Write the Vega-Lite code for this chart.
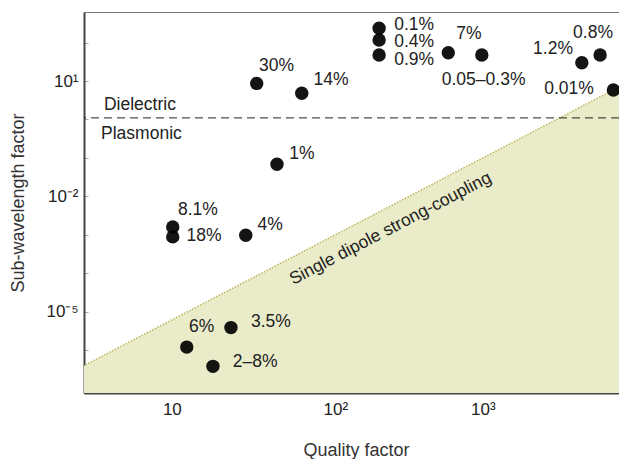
{
  "$schema": "https://vega.github.io/schema/vega-lite/v6.json",
  "width": 535,
  "height": 381,
  "autosize": {"type": "none"},
  "padding": {"left": 84, "top": 12, "right": 0, "bottom": 66},
  "background": "white",
  "config": {
    "font": "Liberation Sans",
    "view": {"stroke": "#777", "strokeWidth": 1},
    "axis": {"grid": false, "titleFontWeight": "normal", "labelFont": "Liberation Sans", "titleFont": "Liberation Sans"}
  },
  "datasets": {
    "boundary": [{"q": 1, "s": 1e-7}, {"q": 12000, "s": 14.4}],
    "divider": [{"s": 1.1}],
    "points": [
      {"label": "30%", "q": 29.3, "s": 8.7},
      {"label": "14%", "q": 59.2, "s": 4.8},
      {"label": "1%", "q": 40.2, "s": 0.0687},
      {"label": "0.1%", "q": 198, "s": 236},
      {"label": "0.4%", "q": 198, "s": 117},
      {"label": "0.9%", "q": 198, "s": 47.6},
      {"label": "7%", "q": 583, "s": 54.6},
      {"label": "0.05–0.3%", "q": 984, "s": 47.6},
      {"label": "1.2%", "q": 4688, "s": 30},
      {"label": "0.8%", "q": 6237, "s": 47.6},
      {"label": "0.01%", "q": 7674, "s": 5.83},
      {"label": "8.1%", "q": 7.9, "s": 0.0016},
      {"label": "18%", "q": 7.9, "s": 0.00088},
      {"label": "4%", "q": 24.7, "s": 0.00097},
      {"label": "3.5%", "q": 19.6, "s": 3.83e-6},
      {"label": "6%", "q": 9.83, "s": 1.19e-6},
      {"label": "2–8%", "q": 14.8, "s": 3.75e-7}
    ],
    "labels": [
      {"label": "30%", "q": 39.9, "s": 24.6},
      {"label": "14%", "q": 93.6, "s": 10.6},
      {"label": "1%", "q": 59.4, "s": 0.125},
      {"label": "0.1%", "q": 342, "s": 288},
      {"label": "0.4%", "q": 342, "s": 105.7},
      {"label": "0.9%", "q": 342, "s": 35.2},
      {"label": "7%", "q": 805, "s": 168},
      {"label": "0.05–0.3%", "q": 1012, "s": 10.6},
      {"label": "1.2%", "q": 2992, "s": 68.2},
      {"label": "0.8%", "q": 5585, "s": 178},
      {"label": "0.01%", "q": 3838, "s": 6.19},
      {"label": "8.1%", "q": 11.7, "s": 0.00436},
      {"label": "18%", "q": 12.88, "s": 0.000914},
      {"label": "4%", "q": 36.1, "s": 0.00177},
      {"label": "3.5%", "q": 36.6, "s": 5.26e-6},
      {"label": "6%", "q": 12.4, "s": 3.89e-6},
      {"label": "2–8%", "q": 28.6, "s": 4.78e-7}
    ],
    "regions": [
      {"label": "Dielectric", "q": 2.7, "s": 2.4},
      {"label": "Plasmonic", "q": 2.58, "s": 0.42}
    ],
    "regime": [
      {"label": "Single dipole strong-coupling", "q": 236.7, "s": 0.001435}
    ]
  },
  "encoding": {
    "x": {
      "field": "q",
      "type": "quantitative",
      "scale": {"type": "log", "domain": [1.977, 8375]},
      "axis": {
        "title": "Quality factor",
        "values": [2, 3, 4, 5, 6, 7, 8, 9, 10, 20, 30, 40, 50, 60, 70, 80, 90, 100, 200, 300, 400, 500, 600, 700, 800, 900, 1000, 2000, 3000, 4000, 5000, 6000, 7000, 8000],
        "labelExpr": "round(log(datum.value)/LN10 * 1000) == 1000 ? '10' : round(log(datum.value)/LN10 * 1000) == 2000 ? '10²' : round(log(datum.value)/LN10 * 1000) == 3000 ? '10³' : ''",
        "labelFontSize": 17,
        "labelColor": "#222",
        "labelPadding": 12,
        "labelOffset": {"expr": "round(datum.value) == 10 ? -16 : 0"},
        "labelFlush": false,
        "labelOverlap": false,
        "tickSize": -4,
        "tickColor": "#aaa",
        "domainColor": "#444",
        "domainWidth": 2,
        "titleFontSize": 18,
        "titleColor": "#333",
        "titleX": 272,
        "titleY": 57,
        "titleBaseline": "middle"
      }
    },
    "y": {
      "field": "s",
      "type": "quantitative",
      "scale": {"type": "log", "domain": [7.6e-8, 628]},
      "axis": {
        "title": "Sub-wavelength factor",
        "values": [1e-7, 1e-6, 1e-5, 1e-4, 1e-3, 1e-2, 1e-1, 1, 10, 100],
        "labelExpr": "round(log(datum.value)/LN10) == 1 ? '10¹' : round(log(datum.value)/LN10) == -2 ? '10⁻²' : round(log(datum.value)/LN10) == -5 ? '10⁻⁵' : ''",
        "labelFontSize": 17,
        "labelColor": "#222",
        "labelPadding": 10,
        "labelFlush": false,
        "labelOverlap": false,
        "tickSize": -4,
        "tickColor": "#aaa",
        "domainColor": "#444",
        "domainWidth": 2,
        "titleFontSize": 18,
        "titleColor": "#333",
        "titleX": -65.5,
        "titleY": 190.5,
        "titleBaseline": "middle"
      }
    }
  },
  "layer": [
    {
      "data": {"name": "boundary"},
      "mark": {"type": "area", "color": "#e9ebc9", "clip": true},
      "encoding": {"y2": {"datum": 1e-9}}
    },
    {
      "data": {"name": "boundary"},
      "mark": {"type": "line", "color": "#bdb75a", "strokeWidth": 1.5, "strokeDash": [1.5, 1.5], "clip": true},
      "encoding": {}
    },
    {
      "data": {"name": "divider"},
      "mark": {"type": "rule", "color": "#222", "strokeWidth": 1, "strokeDash": [8, 5]},
      "encoding": {"y": {"field": "s", "type": "quantitative"}, "x": null}
    },
    {
      "data": {"name": "points"},
      "mark": {"type": "circle", "color": "#000", "opacity": 0.92, "size": 180},
      "encoding": {}
    },
    {
      "data": {"name": "labels"},
      "mark": {"type": "text", "fontSize": 17.5, "color": "#222", "align": "center", "baseline": "middle"},
      "encoding": {"text": {"field": "label"}}
    },
    {
      "data": {"name": "regions"},
      "mark": {"type": "text", "fontSize": 17.5, "color": "#222", "align": "left", "baseline": "middle"},
      "encoding": {"text": {"field": "label"}}
    },
    {
      "data": {"name": "regime"},
      "mark": {"type": "text", "fontSize": 17.5, "color": "#222", "align": "center", "baseline": "middle", "angle": -27.5},
      "encoding": {"text": {"field": "label"}}
    }
  ]
}
